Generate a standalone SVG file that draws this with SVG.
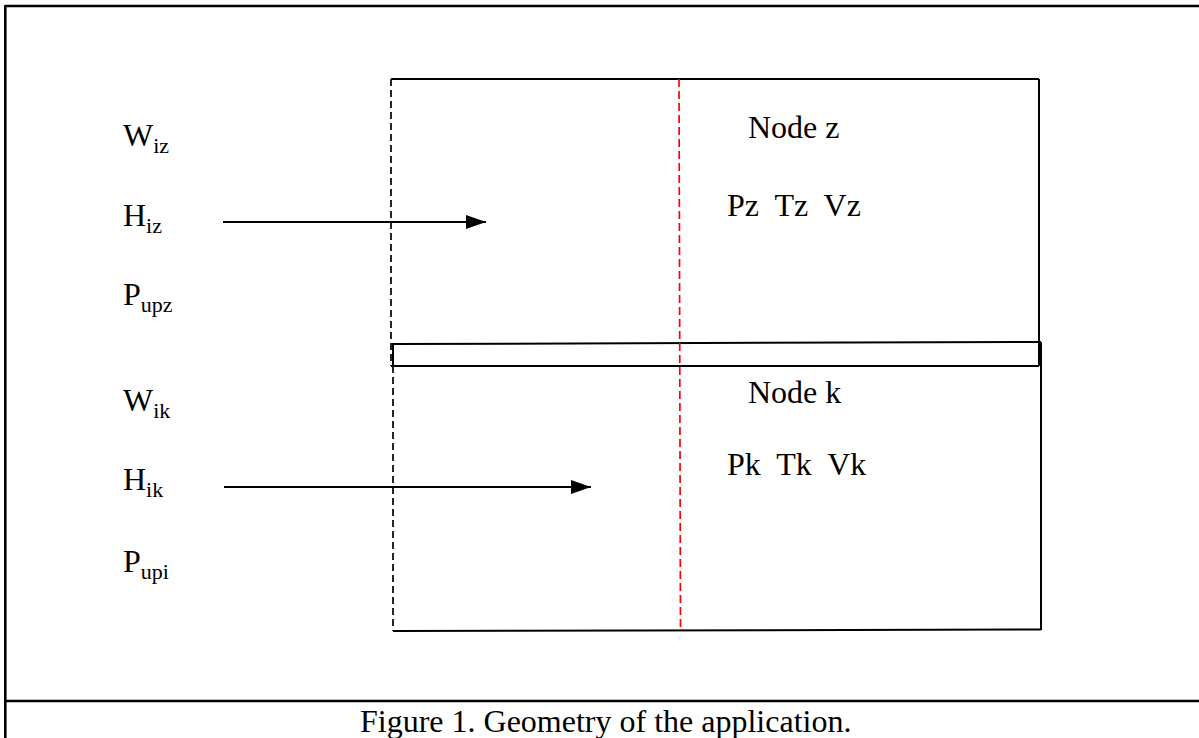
<svg xmlns="http://www.w3.org/2000/svg" width="1199" height="738" viewBox="0 0 1199 738">
  <style>
    .frame { stroke: #000; stroke-width: 2.6; fill: none; }
    .wall { stroke: #000; stroke-width: 2; fill: none; }
    .dash { stroke: #000; stroke-width: 1.7; stroke-dasharray: 7 4; fill: none; }
    .axis { stroke: #ff0000; stroke-width: 1.7; stroke-dasharray: 8 4; fill: none; }
    .flow { stroke: #000; stroke-width: 1.8; fill: none; marker-end: url(#head); }
    text { font-family: "Liberation Serif", "Times New Roman", serif; fill: #000; }
    .lbl { font-size: 32px; }
    .sub { font-size: 22px; }
    .cap { font-size: 32px; }
  </style>
  <defs>
    <marker id="head" markerUnits="userSpaceOnUse" markerWidth="20" markerHeight="14" refX="20" refY="7" orient="auto">
      <path d="M0,0 L20,7 L0,14 Z" fill="#000"/>
    </marker>
  </defs>

  <rect width="1199" height="738" fill="#fff"/>

  <!-- outer frame and caption rule -->
  <g id="frame">
    <line class="frame" x1="5" y1="6" x2="1199" y2="6"/>
    <line class="frame" x1="5.3" y1="5" x2="5.3" y2="738"/>
    <line class="frame" x1="5" y1="701" x2="1199" y2="701"/>
  </g>

  <!-- upper control volume: node z -->
  <g id="node-z">
    <line class="wall" x1="391" y1="79" x2="1039" y2="79"/>
    <line class="wall" x1="1039" y1="79" x2="1039" y2="366"/>
    <line class="dash" x1="391" y1="79" x2="391" y2="366"/>
    <text class="lbl" x="748" y="138">Node z</text>
    <text class="lbl" x="727" y="216" xml:space="preserve">Pz  Tz  Vz</text>
  </g>

  <!-- interface strip between the nodes -->
  <g id="interface">
    <line class="wall" x1="393" y1="344" x2="1041" y2="342"/>
    <line class="wall" x1="391" y1="366" x2="1039" y2="366"/>
    <line class="wall" x1="393" y1="343" x2="393" y2="366"/>
  </g>

  <!-- lower control volume: node k -->
  <g id="node-k">
    <line class="wall" x1="1041" y1="342" x2="1041" y2="630"/>
    <line class="wall" x1="393" y1="631" x2="1041" y2="629.5"/>
    <line class="dash" x1="393" y1="366" x2="393" y2="631"/>
    <text class="lbl" x="748" y="403">Node k</text>
    <text class="lbl" x="727" y="475" xml:space="preserve">Pk  Tk  Vk</text>
  </g>

  <!-- symmetry axis -->
  <g id="axis">
    <line class="axis" x1="679" y1="79" x2="680.5" y2="631"/>
  </g>

  <!-- inflow quantities, upper node -->
  <g id="inflow-z">
    <text class="lbl" x="123" y="146">W<tspan class="sub" dy="7">iz</tspan></text>
    <text class="lbl" x="123" y="226">H<tspan class="sub" dy="7">iz</tspan></text>
    <text class="lbl" x="123" y="305">P<tspan class="sub" dy="7">upz</tspan></text>
  </g>

  <!-- inflow quantities, lower node -->
  <g id="inflow-k">
    <text class="lbl" x="123" y="411">W<tspan class="sub" dy="7">ik</tspan></text>
    <text class="lbl" x="123" y="490">H<tspan class="sub" dy="7">ik</tspan></text>
    <text class="lbl" x="123" y="572">P<tspan class="sub" dy="7">upi</tspan></text>
  </g>

  <!-- connectors -->
  <g id="connectors">
    <line class="flow" x1="223" y1="222" x2="486" y2="222"/>
    <line class="flow" x1="224" y1="487" x2="591" y2="487"/>
  </g>

  <g id="caption">
    <text class="cap" x="360" y="732">Figure 1. Geometry of the application.</text>
  </g>
</svg>
